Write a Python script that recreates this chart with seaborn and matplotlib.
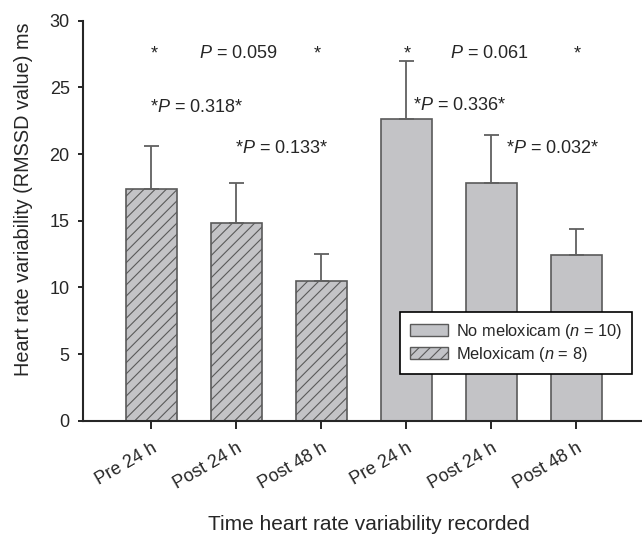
import numpy as np
import pandas as pd
import matplotlib
matplotlib.use("Agg")
import matplotlib.pyplot as plt
import seaborn as sns
from matplotlib.patches import Patch

# datos
tiempos = ["Pre 24 h", "Post 24 h", "Post 48 h", "Pre 24 h", "Post 24 h", "Post 48 h"]
grupos = ["Meloxicam", "Meloxicam", "Meloxicam", "No meloxicam", "No meloxicam", "No meloxicam"]
rmssd = [17.4, 14.8, 10.5, 22.6, 17.8, 12.4]
error_sup = [3.2, 3.0, 2.0, 4.4, 3.6, 2.0]

# anotaciones de significancia (texto, posicion x en categorias, linea base y)
anot_texto = ["*", r"$P$ = 0.059", "*", r"*$P$ = 0.318*", r"*$P$ = 0.133*",
              "*", r"$P$ = 0.061", "*", r"*$P$ = 0.336*", r"*$P$ = 0.032*"]
anot_x = [0.035, 1.02, 1.95, 0.54, 1.54, 3.02, 3.98, 5.01, 3.63, 4.72]
anot_y = [27.2, 27.2, 27.2, 23.15, 20.1, 27.2, 27.2, 27.2, 23.3, 20.1]

sns.set_style("ticks")
plt.rcParams['font.family'] = ['Liberation Sans', 'DejaVu Sans']
plt.rcParams['mathtext.fontset'] = 'custom'
plt.rcParams['mathtext.rm'] = 'Liberation Sans'
plt.rcParams['mathtext.it'] = 'Liberation Sans:italic'
plt.rcParams['hatch.linewidth'] = 0.8

df = pd.DataFrame({"pos": [str(i) for i in range(len(tiempos))],
                   "grupo": grupos, "rmssd": rmssd})

fig = plt.figure(figsize=(6.42, 5.38), dpi=100)
ax = fig.add_axes([0.1293, 0.2178, 0.8707, 0.7435])

gris = "#c2c3c7"
borde = "#5a5a5a"
sns.barplot(data=df, x="pos", y="rmssd", hue="grupo", dodge=False,
            palette={"Meloxicam": gris, "No meloxicam": gris},
            width=0.6, edgecolor=borde, linewidth=1.2, errorbar=None,
            legend=False, ax=ax)

# rayado para el grupo meloxicam
for barra in ax.patches:
    i = int(round(barra.get_x() + barra.get_width() / 2))
    if 0 <= i < len(grupos) and grupos[i] == "Meloxicam":
        barra.set_hatch("///")

x = np.arange(len(rmssd))
ax.errorbar(x, rmssd, yerr=[np.zeros(len(rmssd)), error_sup], fmt="none",
            ecolor="#606060", elinewidth=1.3, capsize=5.4, capthick=1.3)

for t, xx, yy in zip(anot_texto, anot_x, anot_y):
    ax.text(xx, yy, t, ha="center", va="baseline", fontsize=13)

ax.set_xlim(-0.8, 5.776)
ax.set_ylim(0, 30)
ax.set_yticks([0, 5, 10, 15, 20, 25, 30])
ax.set_xticks(x)
ax.set_xticklabels(tiempos, rotation=30, ha="right", va="top",
                   rotation_mode="anchor", fontsize=13)
ax.tick_params(axis="y", labelsize=13, length=3.6, width=1.4, pad=6)
ax.tick_params(axis="x", length=5.8, width=1.4, pad=8)

ax.set_ylabel("Heart rate variability (RMSSD value) ms", fontsize=14.3, va="center")
ax.yaxis.set_label_coords(-0.107, 0.554)
ax.set_xlabel("Time heart rate variability recorded", fontsize=15, va="center")
ax.xaxis.set_label_coords(0.512, -0.26)

sns.despine(ax=ax)
for s in ["left", "bottom"]:
    ax.spines[s].set_linewidth(1.5)

handles = [Patch(facecolor=gris, edgecolor=borde, label=r"No meloxicam ($n$ = 10)"),
           Patch(facecolor=gris, edgecolor=borde, hatch="///", label=r"Meloxicam ($n$ = 8)")]
leg = ax.legend(handles=handles, loc="upper left", bbox_to_anchor=(400 / 642, 1 - 312 / 538),
                bbox_transform=fig.transFigure, fontsize=11.8, fancybox=False,
                edgecolor="black", framealpha=1, handlelength=2.3, handleheight=0.7,
                handletextpad=0.5, borderpad=0.6, borderaxespad=0, labelspacing=0.25)
leg.get_frame().set_linewidth(1.2)

fig.savefig("out.png", dpi=100)
